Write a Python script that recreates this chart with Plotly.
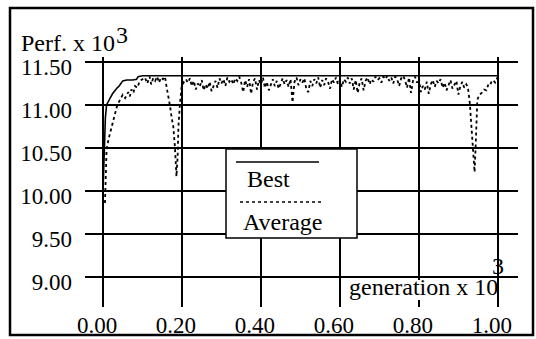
import plotly.graph_objects as go

# ---- data (generation x 10^3, performance x 10^3) ----
best_x = [0.000, 0.003, 0.006, 0.009, 0.013, 0.018, 0.024, 0.030, 0.036, 0.041,
          0.050, 0.060, 0.075, 0.085, 0.089, 0.100, 1.000]
best_y = [10.00, 10.50, 10.85, 11.00, 11.03, 11.08, 11.13, 11.17, 11.20, 11.22,
          11.28, 11.29, 11.29, 11.30, 11.33, 11.34, 11.34]

avg_x_start = [0.005, 0.007, 0.009, 0.015, 0.022, 0.030, 0.035, 0.043, 0.050, 0.056,
               0.064, 0.068, 0.072, 0.077, 0.081, 0.087, 0.093, 0.100, 0.106,
               0.112, 0.118, 0.122, 0.127, 0.132, 0.137, 0.142, 0.147, 0.152, 0.157,
               0.161, 0.166, 0.170, 0.174, 0.178, 0.182, 0.186, 0.189, 0.191, 0.195,
               0.199, 0.205]
avg_y_start = [9.86, 10.20, 10.48, 10.62, 10.75, 10.90, 10.98, 11.06, 11.12, 11.08,
               11.15, 11.10, 11.18, 11.14, 11.22, 11.20, 11.28, 11.30, 11.32,
               11.25, 11.33, 11.24, 11.31, 11.28, 11.33, 11.26, 11.32, 11.30, 11.33,
               11.21, 11.10, 10.98, 10.85, 10.75, 10.52, 10.17, 10.40, 10.75, 11.02,
               11.21, 11.27]

avg_x_mid = [round(0.210 + 0.005 * i, 3) for i in range(143)]
avg_y_mid = [
    11.30, 11.26, 11.31, 11.22, 11.28, 11.18, 11.25, 11.21, 11.29, 11.17,
    11.24, 11.19, 11.27, 11.16, 11.22, 11.28, 11.20, 11.31, 11.25, 11.30,
    11.22, 11.32, 11.27, 11.30, 11.24, 11.31, 11.28, 11.33, 11.26, 11.15,
    11.29, 11.21, 11.30, 11.13, 11.27, 11.31, 11.18, 11.29, 11.24, 11.32,
    11.20, 11.27, 11.17, 11.25, 11.30, 11.22, 11.28, 11.19, 11.26, 11.31,
    11.24, 11.29, 11.21, 11.30, 11.03, 11.27, 11.32, 11.23, 11.30, 11.26,
    11.31, 11.18, 11.15, 11.28, 11.22, 11.30, 11.25, 11.32, 11.20, 11.29,
    11.23, 11.31, 11.27, 11.19, 11.30, 11.26, 11.32, 11.24, 11.29, 11.21,
    11.30, 11.27, 11.32, 11.25, 11.31, 11.18, 11.29, 11.14, 11.26, 11.31,
    11.17, 11.28, 11.32, 11.24, 11.30, 11.27, 11.33, 11.29, 11.31, 11.26,
    11.33, 11.30, 11.34, 11.28, 11.32, 11.25, 11.33, 11.30, 11.22, 11.31,
    11.34, 11.29, 11.20, 11.32, 11.14, 11.28, 11.33, 11.26, 11.31, 11.15,
    11.22, 11.18, 11.27, 11.13, 11.24, 11.29, 11.21, 11.28, 11.25, 11.30,
    11.20, 11.26, 11.17, 11.24, 11.29, 11.19, 11.23, 11.28, 11.12, 11.22,
    11.27, 11.20, 11.24]

avg_x_end = [0.924, 0.929, 0.933, 0.937, 0.941, 0.944, 0.946, 0.948, 0.953, 0.959,
             0.965, 0.971, 0.976, 0.980, 0.984, 0.988, 0.993, 1.000]
avg_y_end = [11.21, 11.02, 10.75, 10.51, 10.22, 10.55, 10.85, 11.06, 11.12, 11.14,
             11.18, 11.17, 11.24, 11.23, 11.27, 11.29, 11.26, 11.33]

avg_x = avg_x_start + avg_x_mid + avg_x_end
avg_y = avg_y_start + avg_y_mid + avg_y_end

x_ticks = [0.0, 0.2, 0.4, 0.6, 0.8, 1.0]
y_ticks = [9.0, 9.5, 10.0, 10.5, 11.0, 11.5]

W, H = 536, 339
FONT = "Liberation Serif"


def px(x):
    return x / W


def py(y):
    return 1 - y / H


fig = go.Figure()
fig.add_trace(go.Scatter(x=best_x, y=best_y, mode="lines", name="Best",
                         line=dict(color="black", width=1.6)))
fig.add_trace(go.Scatter(x=avg_x, y=avg_y, mode="lines", name="Average",
                         line=dict(color="black", width=1.8, dash="dot")))

fig.update_layout(
    width=W, height=H,
    margin=dict(l=0, r=0, t=0, b=0, autoexpand=False),
    paper_bgcolor="white", plot_bgcolor="white",
    showlegend=False,
    font=dict(family=FONT, size=23, color="black"),
    xaxis=dict(domain=[px(85), px(518)], range=[-0.0456, 1.051],
               tickvals=x_ticks, ticktext=[f"{v:.2f}" for v in x_ticks],
               showgrid=True, gridcolor="black", gridwidth=2,
               zeroline=False, showline=False, ticks="",
               ticklabelstandoff=2, ticklabelshift=-6),
    yaxis=dict(domain=[py(307), py(57)], range=[8.651, 11.558],
               tickvals=y_ticks, ticktext=[f"{v:.2f}" for v in y_ticks],
               showgrid=True, gridcolor="black", gridwidth=2,
               zeroline=False, showline=False, ticks="",
               ticklabelstandoff=12, ticklabelshift=5),
)

shapes = [
    # outer frame
    dict(type="rect", xref="paper", yref="paper", x0=px(10), x1=px(533),
         y0=py(335), y1=py(8), line=dict(color="black", width=2.5), layer="above"),
    # white patch behind the x-axis title
    dict(type="rect", xref="paper", yref="paper", x0=px(346), x1=px(494),
         y0=py(300), y1=py(280), fillcolor="white", line=dict(width=0), layer="above"),
    # legend box
    dict(type="rect", xref="paper", yref="paper", x0=px(226), x1=px(357),
         y0=py(238), y1=py(149), fillcolor="white",
         line=dict(color="black", width=1.5), layer="above"),
    dict(type="line", xref="paper", yref="paper", x0=px(236), x1=px(319),
         y0=py(162), y1=py(162), line=dict(color="black", width=1.6), layer="above"),
    dict(type="line", xref="paper", yref="paper", x0=px(240), x1=px(321),
         y0=py(202), y1=py(202), line=dict(color="black", width=1.4, dash="dot"),
         layer="above"),
]
fig.update_layout(shapes=shapes)

ann = [
    dict(text="Perf. x 10", x=px(19), y=py(43), xanchor="left", yanchor="middle"),
    dict(text="3", x=px(122), y=py(35), xanchor="center", yanchor="middle"),
    dict(text="generation x 10", x=px(347), y=py(287), xanchor="left", yanchor="middle"),
    dict(text="3", x=px(498), y=py(266), xanchor="center", yanchor="middle"),
    dict(text="Best", x=px(245), y=py(179), xanchor="left", yanchor="middle"),
    dict(text="Average", x=px(241), y=py(222), xanchor="left", yanchor="middle"),
]
for a in ann:
    a.update(xref="paper", yref="paper", showarrow=False,
             font=dict(family=FONT, size=24, color="black"))
fig.update_layout(annotations=ann)

fig.write_html("out.html", config={"displayModeBar": False},
               post_script="document.body.style.margin='0';document.body.style.padding='0';")
